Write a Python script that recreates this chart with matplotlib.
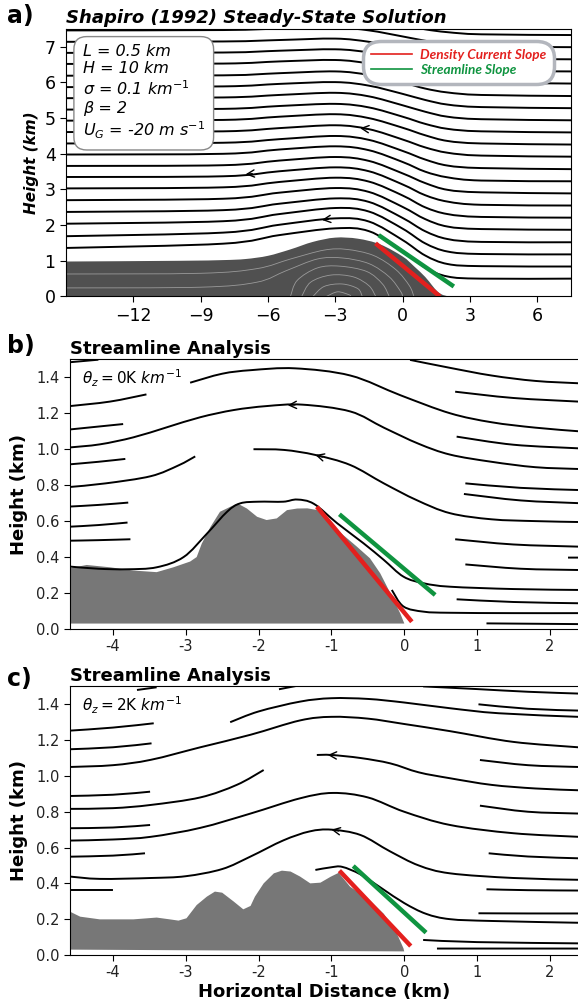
import numpy as np
import matplotlib
matplotlib.use("Agg")
import matplotlib.pyplot as plt
from matplotlib.path import Path
from matplotlib.patches import PathPatch
from matplotlib.lines import Line2D

RED = "#e3201e"
GREEN = "#0f9440"
TERRAIN = "#777777"
CURRENT = "#505050"

# ---------------- panel a : Shapiro (1992) steady state ----------------
A_X = [-15, -8, -5.5, -3, -1.5, 0, 1, 2, 3.5, 7.5]
A_LINES = [
    [1.36, 1.48, 1.72, 1.91, 1.83, 1.28, 0.81, 0.56, 0.50, 0.50],
    [1.69, 1.79, 2.01, 2.19, 2.10, 1.58, 1.15, 0.91, 0.85, 0.84],
    [2.04, 2.11, 2.31, 2.48, 2.38, 1.90, 1.49, 1.26, 1.19, 1.18],
    [2.37, 2.42, 2.60, 2.75, 2.65, 2.20, 1.83, 1.61, 1.53, 1.52],
    [2.70, 2.74, 2.91, 3.04, 2.93, 2.51, 2.17, 1.96, 1.89, 1.87],
    [3.03, 3.06, 3.21, 3.33, 3.22, 2.83, 2.50, 2.31, 2.23, 2.21],
    [3.35, 3.37, 3.51, 3.62, 3.51, 3.14, 2.84, 2.66, 2.57, 2.55],
    [3.66, 3.68, 3.81, 3.91, 3.80, 3.45, 3.18, 2.99, 2.92, 2.89],
    [3.98, 4.00, 4.12, 4.21, 4.10, 3.77, 3.50, 3.34, 3.25, 3.23],
    [4.29, 4.31, 4.41, 4.50, 4.39, 4.08, 3.84, 3.67, 3.60, 3.57],
    [4.61, 4.63, 4.72, 4.80, 4.69, 4.40, 4.18, 4.03, 3.95, 3.92],
    [4.93, 4.95, 5.04, 5.11, 5.00, 4.73, 4.52, 4.36, 4.29, 4.26],
    [5.24, 5.26, 5.34, 5.40, 5.30, 5.04, 4.84, 4.70, 4.63, 4.60],
    [5.56, 5.58, 5.65, 5.71, 5.61, 5.36, 5.18, 5.04, 4.97, 4.94],
    [5.87, 5.89, 5.96, 6.01, 5.91, 5.68, 5.51, 5.38, 5.31, 5.28],
    [6.19, 6.20, 6.26, 6.31, 6.21, 6.00, 5.83, 5.72, 5.65, 5.62],
    [6.52, 6.53, 6.59, 6.63, 6.53, 6.33, 6.18, 6.06, 6.00, 5.97],
    [6.83, 6.84, 6.89, 6.93, 6.84, 6.65, 6.51, 6.40, 6.33, 6.31],
    [7.14, 7.15, 7.19, 7.23, 7.14, 6.97, 6.84, 6.74, 6.67, 6.65],
    [7.46, 7.47, 7.51, 7.54, 7.46, 7.29, 7.17, 7.07, 7.01, 6.99],
    [7.77, 7.78, 7.81, 7.84, 7.76, 7.61, 7.49, 7.41, 7.35, 7.33],
]
A_ARROWS = [(1, -3.6), (6, -7.0), (10, -1.9)]  # (line index, x)

CUR_X = [-15, -10, -8, -7, -6, -5, -4, -3, -2, -1, 0, 0.5, 1.0, 1.3, 1.55, 1.8, 2.1]
CUR_Y = [0.98, 1.0, 1.02, 1.05, 1.14, 1.32, 1.53, 1.65, 1.62, 1.46, 1.12, 0.85, 0.55, 0.32,
         0.14, 0.04, 0.0]

INNER = [
    ([-15, -9, -6.5, -5, -3.5, -2.5, -1.3, -0.3, 0.3, 0.5],
     [0.63, 0.65, 0.78, 1.05, 1.30, 1.32, 1.15, 0.75, 0.30, 0.0]),
    ([-15, -9, -6.5, -5.2, -3.8, -2.7, -1.5, -0.6, -0.1, 0.0],
     [0.24, 0.26, 0.40, 0.72, 1.05, 1.08, 0.92, 0.55, 0.15, 0.0]),
    ([-5.0, -4.7, -3.8, -2.8, -1.6, -0.9, -0.6], [0.0, 0.45, 0.80, 0.85, 0.70, 0.35, 0.0]),
    ([-4.5, -4.1, -3.2, -2.2, -1.5, -1.2], [0.0, 0.40, 0.60, 0.55, 0.30, 0.0]),
    ([-4.0, -3.5, -2.7, -2.0, -1.8], [0.0, 0.28, 0.35, 0.22, 0.0]),
    ([-3.4, -2.9, -2.4, -2.3], [0.0, 0.13, 0.05, 0.0]),
]

A_RED = ([-1.21, 1.66], [1.49, 0.0])
A_GREEN = ([-1.07, 2.28], [1.72, 0.28])
A_XTICKS = [-12, -9, -6, -3, 0, 3, 6]
A_YTICKS = [0, 1, 2, 3, 4, 5, 6, 7]
PARAM_TEXT = ("L = 0.5 km\nH = 10 km\n\u03c3 = 0.1 km$^{-1}$\n\u03b2 = 2\n"
              "$U_G$ = -20 m s$^{-1}$")
LEGEND_LABELS = ["Density Current Slope", "Streamline Slope"]

# ---------------- panel b : theta_z = 0 K/km ----------------
B_TERRAIN_X = [-4.59, -4.36, -4.04, -3.72, -3.40, -3.17, -2.94, -2.85, -2.78, -2.66, -2.53,
               -2.34, -2.29, -2.16, -2.02, -1.89, -1.75, -1.61, -1.47, -1.33, -1.20, -0.92,
               -0.65, -0.47, -0.33, -0.19, -0.055, 0.0, 0.0]
B_TERRAIN_Y = [0.338, 0.356, 0.343, 0.325, 0.316, 0.343, 0.375, 0.40, 0.475, 0.568, 0.652,
               0.689, 0.698, 0.67, 0.624, 0.606, 0.615, 0.661, 0.67, 0.671, 0.662, 0.551,
               0.458, 0.393, 0.31, 0.199, 0.087, 0.032, 0.03]
B_LINES = [
    ([-4.59, -4.2], [1.484, 1.498]),
    ([0.08, 0.6, 1.2, 1.8, 2.39], [1.497, 1.455, 1.41, 1.38, 1.367]),
    ([-2.94, -2.5, -2.1, -1.5, -0.74, -0.05, 0.63, 1.2, 1.8, 2.39],
     [1.37, 1.42, 1.44, 1.45, 1.41, 1.30, 1.20, 1.15, 1.12, 1.10]),
    ([-4.59, -4.04, -3.54], [1.24, 1.265, 1.305]),
    ([-4.59, -3.86], [1.11, 1.14]),
    ([-4.59, -4.18, -3.72, -3.26, -2.8, -2.34, -1.89, -1.4, -0.74, -0.28, 0.2, 0.63, 1.2, 1.8, 2.39],
     [1.01, 1.027, 1.066, 1.122, 1.178, 1.218, 1.24, 1.248, 1.21, 1.12, 1.03, 0.97, 0.93, 0.90, 0.89]),
    ([-4.59, -4.2, -3.83], [0.916, 0.93, 0.946]),
    ([-4.59, -4.1, -3.48, -3.1, -2.87], [0.79, 0.81, 0.85, 0.91, 0.96]),
    ([-2.07, -1.65, -1.22, -0.74, -0.28, 0.17, 0.63, 1.2, 1.8, 2.39],
     [1.0, 0.996, 0.968, 0.912, 0.81, 0.717, 0.644, 0.61, 0.60, 0.595]),
    ([-4.59, -4.2, -3.79], [0.681, 0.69, 0.703]),
    ([-4.59, -4.2, -3.80], [0.569, 0.578, 0.592]),
    ([-4.59, -4.2, -3.76], [0.491, 0.494, 0.499]),
    ([-4.59, -4.2, -3.81, -3.40, -3.03, -2.71, -2.43, -2.25, -2.0, -1.66, -1.47, -1.24, -0.92,
      -0.56, -0.28, -0.01, 0.27, 0.63, 1.5, 2.39],
     [0.347, 0.335, 0.332, 0.343, 0.40, 0.53, 0.653, 0.699, 0.708, 0.708, 0.72, 0.696, 0.588,
      0.477, 0.384, 0.291, 0.254, 0.235, 0.222, 0.217]),
    ([-0.17, -0.01, 0.27, 0.63, 1.5, 2.39], [0.217, 0.125, 0.096, 0.09, 0.088, 0.088]),
    ([0.70, 1.5, 2.39], [1.32, 1.285, 1.265]),
    ([0.72, 1.5, 2.39], [1.07, 1.025, 1.005]),
    ([0.84, 1.6, 2.39], [0.81, 0.785, 0.773]),
    ([0.82, 1.6, 2.39], [0.751, 0.715, 0.70]),
    ([0.70, 1.5, 2.39], [0.499, 0.47, 0.458]),
    ([0.84, 1.6, 2.39], [0.359, 0.335, 0.328]),
    ([0.72, 1.5, 2.39], [0.165, 0.15, 0.143]),
    ([1.13, 2.39], [0.031, 0.027]),
    ([2.25, 2.39], [0.397, 0.397]),
]
B_ARROWS = [(5, -1.6), (8, -1.22)]
B_RED = ([-1.20, 0.105], [0.68, 0.04])
B_GREEN = ([-0.89, 0.425], [0.638, 0.189])
B_LABEL = r"$\theta_z = 0\mathrm{K}\ km^{-1}$"

# ---------------- panel c : theta_z = 2 K/km ----------------
C_TERRAIN_X = [-4.59, -4.45, -4.18, -3.72, -3.40, -3.22, -3.10, -2.99, -2.85, -2.71, -2.60,
               -2.50, -2.34, -2.21, -2.11, -2.05, -1.93, -1.79, -1.68, -1.56, -1.43, -1.29,
               -1.15, -1.01, -0.90, -0.74, -0.51, -0.28, -0.10, -0.01, 0.0]
C_TERRAIN_Y = [0.242, 0.214, 0.199, 0.199, 0.209, 0.199, 0.192, 0.205, 0.279, 0.326, 0.354,
               0.348, 0.298, 0.255, 0.274, 0.326, 0.40, 0.456, 0.471, 0.466, 0.438, 0.40,
               0.404, 0.437, 0.459, 0.38, 0.32, 0.23, 0.12, 0.037, 0.02]
C_LINES = [
    ([-3.67, -3.4], [1.48, 1.495]),
    ([-1.72, -1.45], [1.484, 1.505]),
    ([0.26, 1.0, 1.7, 2.39], [1.5, 1.485, 1.47, 1.46]),
    ([-2.39, -2.0, -1.43, -1.0, -0.5, 0.0, 0.63, 1.3, 2.39],
     [1.30, 1.36, 1.415, 1.434, 1.43, 1.41, 1.378, 1.35, 1.33]),
    ([1.02, 1.7, 2.39], [1.40, 1.375, 1.365]),
    ([-4.59, -4.0, -3.44], [1.253, 1.27, 1.294]),
    ([-4.59, -4.0, -3.47], [1.149, 1.16, 1.182]),
    ([-4.59, -4.0, -3.48, -2.8, -2.11, -1.43, -1.0, -0.5, 0.0, 0.63, 1.5, 2.39],
     [1.05, 1.06, 1.09, 1.16, 1.23, 1.31, 1.33, 1.32, 1.29, 1.25, 1.19, 1.16]),
    ([1.04, 1.7, 2.39], [1.089, 1.06, 1.05]),
    ([-1.2, -1.0, -0.6, -0.19, 0.2, 0.63, 1.2, 1.8, 2.39],
     [1.117, 1.117, 1.10, 1.07, 1.02, 0.987, 0.95, 0.93, 0.92]),
    ([-4.59, -4.0, -3.49], [0.888, 0.895, 0.912]),
    ([-4.59, -4.0, -3.48, -2.8, -2.3, -1.93], [0.816, 0.82, 0.838, 0.88, 0.95, 1.033]),
    ([1.04, 1.7, 2.39], [0.834, 0.80, 0.79]),
    ([-4.59, -4.0, -3.49], [0.708, 0.712, 0.726]),
    ([-4.59, -4.0, -3.48, -2.8, -2.11, -1.43, -0.98, -0.5, 0.0, 0.63, 1.5, 2.39],
     [0.639, 0.645, 0.66, 0.71, 0.79, 0.875, 0.905, 0.88, 0.80, 0.726, 0.68, 0.66]),
    ([1.16, 1.7, 2.39], [0.568, 0.55, 0.54]),
    ([-4.59, -4.0, -3.56], [0.549, 0.555, 0.568]),
    ([-4.59, -4.18, -3.48, -3.0, -2.5, -2.11, -1.66, -1.3, -1.0, -0.6, -0.2, 0.2, 0.63, 1.5, 2.39],
     [0.438, 0.425, 0.43, 0.44, 0.48, 0.55, 0.64, 0.69, 0.70, 0.67, 0.58, 0.50, 0.456, 0.43, 0.42]),
    ([1.13, 1.7, 2.39], [0.367, 0.362, 0.36]),
    ([-4.59, -4.0], [0.363, 0.363]),
    ([-1.22, -1.0, -0.85, -0.6, -0.3, 0.0, 0.3, 0.63, 1.2, 2.39],
     [0.475, 0.49, 0.492, 0.45, 0.37, 0.29, 0.23, 0.20, 0.19, 0.18]),
    ([1.02, 1.7, 2.39], [0.233, 0.232, 0.232]),
    ([0.26, 1.0, 2.39], [0.084, 0.072, 0.065]),
    ([0.45, 1.2, 2.39], [0.036, 0.036, 0.036]),
]
C_ARROWS = [(9, -1.05), (17, -1.0)]
C_RED = ([-0.89, 0.09], [0.471, 0.05])
C_GREEN = ([-0.70, 0.30], [0.497, 0.125])
C_LABEL = r"$\theta_z = 2\mathrm{K}\ km^{-1}$"

BC_XTICKS = [-4, -3, -2, -1, 0, 1, 2]
BC_XTICKLABELS = ["-4", "-3", "-2", "-1", "0", "1", "2"]
BC_YTICKS = [0.0, 0.2, 0.4, 0.6, 0.8, 1.0, 1.2, 1.4]


def smooth_path(xs, ys, close_to=None):
    """Catmull-Rom curve through the given points, as a bezier Path."""
    pts = np.column_stack([xs, ys]).astype(float)
    verts = [pts[0]]
    codes = [Path.MOVETO]
    n = len(pts)
    for i in range(n - 1):
        p0 = pts[i - 1] if i > 0 else pts[i]
        p1 = pts[i]
        p2 = pts[i + 1]
        p3 = pts[i + 2] if i + 2 < n else pts[i + 1]
        verts += [p1 + (p2 - p0) / 6.0, p2 - (p3 - p1) / 6.0, p2]
        codes += [Path.CURVE4] * 3
    if close_to is not None:
        for p in close_to:
            verts.append(p)
            codes.append(Path.LINETO)
        verts.append(pts[0])
        codes.append(Path.CLOSEPOLY)
    return Path(verts, codes)


def stream(ax, xs, ys, lw=1.3, color="black", z=3):
    ax.add_patch(PathPatch(smooth_path(xs, ys), fill=False, lw=lw, ec=color,
                           zorder=z, capstyle="butt"))


def arrow(ax, xs, ys, x0, dx):
    y0 = np.interp(x0, xs, ys)
    y1 = np.interp(x0 + dx, xs, ys)
    ax.annotate("", xy=(x0, y0), xytext=(x0 + dx, y1),
                arrowprops=dict(arrowstyle="->", lw=1.0, color="black",
                                mutation_scale=13, shrinkA=0, shrinkB=0), zorder=4)


fig = plt.figure(figsize=(5.78, 10.06), dpi=100)

# ---------- a ----------
axa = fig.add_axes([0.1142, 0.7053, 0.8737, 0.2659])
axa.set_xlim(-15, 7.5)
axa.set_ylim(0, 7.5)
axa.add_patch(PathPatch(smooth_path(CUR_X, CUR_Y, close_to=[(2.1, 0.0), (-15, 0.0)]),
                        fc=CURRENT, ec="none", zorder=1))
for xs, ys in INNER:
    stream(axa, xs, ys, lw=0.6, color="#9a9a9a", z=2)
for row in A_LINES:
    stream(axa, A_X, row, lw=1.4)
for idx, xa in A_ARROWS:
    arrow(axa, A_X, A_LINES[idx], xa, 0.3)
axa.plot(*A_RED, color=RED, lw=3.2, solid_capstyle="butt", zorder=5)
axa.plot(*A_GREEN, color=GREEN, lw=3.2, solid_capstyle="butt", zorder=5)
axa.set_xticks(A_XTICKS)
axa.set_yticks(A_YTICKS)
axa.tick_params(labelsize=12.5, length=4)
axa.set_ylabel("Height (km)", fontsize=11, fontweight="bold", style="italic", labelpad=4)
axa.set_title("Shapiro (1992) Steady-State Solution", loc="left", fontsize=13,
              fontweight="bold", style="italic", pad=4)
axa.text(0.033, 0.945, PARAM_TEXT, transform=axa.transAxes, va="top", ha="left",
         fontsize=11.5, style="italic", linespacing=1.22, zorder=8,
         bbox=dict(boxstyle="round,pad=0.55,rounding_size=0.8", fc="white",
                   ec="#888888", lw=1.0))
handles = [Line2D([], [], color=RED, lw=1.2), Line2D([], [], color=GREEN, lw=1.2)]
leg = axa.legend(handles, LEGEND_LABELS, loc="upper right", bbox_to_anchor=(0.972, 0.966),
                 prop=dict(family="Lato", weight="bold", style="italic", size=9.8),
                 handlelength=2.95, labelcolor=[RED, GREEN], frameon=True, fancybox=True,
                 framealpha=1, edgecolor="#b3b6bd", borderpad=0.3, labelspacing=0.2,
                 handletextpad=0.6)
leg.get_frame().set_linewidth(2.5)
leg.get_frame().set_boxstyle("round,pad=0.3,rounding_size=1.3")
leg.set_zorder(9)


def bc_panel(ax, tx, ty, lines, arrows, red, green, label, title):
    ax.set_xlim(-4.59, 2.387)
    ax.set_ylim(0, 1.5)
    ax.fill(tx + [tx[0]], ty + [0.03], color=TERRAIN, lw=0, zorder=1)
    for xs, ys in lines:
        stream(ax, xs, ys, lw=1.4)
    for idx, xa in arrows:
        arrow(ax, lines[idx][0], lines[idx][1], xa, 0.1)
    ax.plot(*red, color=RED, lw=3.2, solid_capstyle="butt", zorder=5)
    ax.plot(*green, color=GREEN, lw=3.2, solid_capstyle="butt", zorder=5)
    ax.set_xticks(BC_XTICKS)
    ax.set_xticklabels(BC_XTICKLABELS)
    ax.set_yticks(BC_YTICKS)
    ax.set_yticklabels([f"{v:.1f}" for v in BC_YTICKS])
    ax.tick_params(labelsize=10.5, length=4, labelcolor="#222222")
    ax.spines["right"].set_visible(False)
    ax.set_ylabel("Height (km)", fontsize=13, fontweight="bold", labelpad=6)
    ax.set_title(title, loc="left", fontsize=13, fontweight="bold", pad=4)
    ax.text(-4.43, 1.395, label, fontsize=11, va="center", ha="left", zorder=6)


axb = fig.add_axes([0.1211, 0.3748, 0.8789, 0.2680])
bc_panel(axb, B_TERRAIN_X, B_TERRAIN_Y, B_LINES, B_ARROWS, B_RED, B_GREEN, B_LABEL,
         "Streamline Analysis")

axc = fig.add_axes([0.1211, 0.0507, 0.8789, 0.2670])
bc_panel(axc, C_TERRAIN_X, C_TERRAIN_Y, C_LINES, C_ARROWS, C_RED, C_GREEN, C_LABEL,
         "Streamline Analysis")
axc.set_xlabel("Horizontal Distance (km)", fontsize=13, fontweight="bold", labelpad=2)

fig.text(0.012, 0.996, "a)", fontsize=17, fontweight="bold", va="top", ha="left")
fig.text(0.012, 0.668, "b)", fontsize=17, fontweight="bold", va="top", ha="left")
fig.text(0.012, 0.337, "c)", fontsize=17, fontweight="bold", va="top", ha="left")

fig.savefig("out.png", dpi=100)
